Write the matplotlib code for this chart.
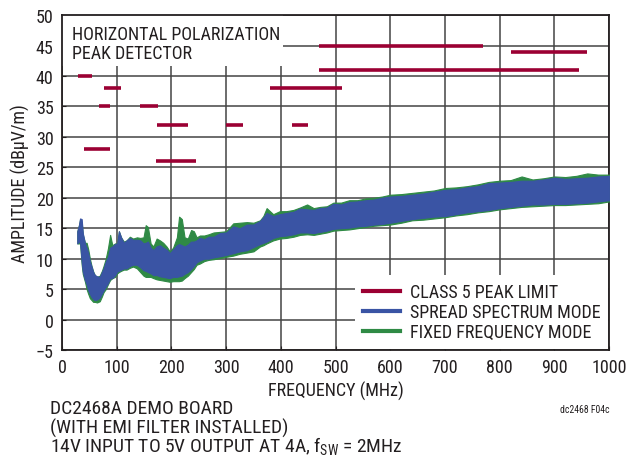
import numpy as np
import matplotlib.pyplot as plt
from matplotlib.lines import Line2D
from matplotlib.patches import Rectangle

plt.rcParams['font.family'] = ['Roboto Condensed', 'DejaVu Sans']

# class 5 peak limit segments (MHz, dBuV/m)
limit_start = [30, 76, 68, 41, 142, 174, 171, 300, 420, 380, 470, 470, 820]
limit_end = [54, 108, 87, 88, 175, 230, 245, 330, 450, 512, 770, 944, 960]
limit_level = [40, 38, 35, 28, 35, 32, 26, 32, 32, 38, 45, 41, 44]

freq = [28, 31, 33, 36, 38, 42, 45, 48, 51, 54, 57, 60, 64, 69, 73, 76, 80, 84,
        88, 92, 97, 101, 104, 108, 113, 118, 124, 130, 137, 143, 149, 153, 157,
        162, 167, 173, 179, 185, 191, 197, 203, 210, 214, 219, 224, 230, 236,
        241, 246, 252, 260, 268, 277, 289, 300, 313, 325, 338, 350, 362, 368,
        374, 386, 398, 410, 423, 435, 448, 460, 472, 484, 496, 510, 525, 540,
        555, 570, 585, 600, 620, 640, 660, 680, 700, 720, 740, 760, 780, 800,
        820, 840, 860, 880, 900, 920, 940, 960, 980, 1000]
spread_hi = [14.5, 15.5, 16.6, 16.5, 14.2, 12.5, 11.8, 10.9, 9.5, 8.7, 7.8, 7.3,
             7.1, 7.0, 7.8, 8.4, 9.5, 10.3, 11.8, 12.0, 12.4, 12.5, 14.5, 13.5,
             12.6, 13.0, 13.4, 13.1, 13.1, 13.0, 12.5, 12.6, 12.8, 11.8, 11.4,
             12.0, 12.2, 11.8, 11.5, 10.9, 11.5, 12.2, 12.4, 12.2, 12.0, 12.3,
             12.8, 12.8, 13.0, 13.4, 13.2, 13.6, 13.6, 14.2, 14.3, 15.3, 15.0,
             15.6, 15.6, 16.2, 16.8, 17.5, 17.0, 17.3, 17.5, 17.7, 18.2, 18.1,
             18.0, 18.3, 18.4, 19.0, 18.9, 19.3, 19.4, 19.6, 19.7, 20.0, 20.2,
             20.3, 20.5, 20.7, 21.0, 21.3, 21.4, 21.7, 21.9, 22.4, 22.5, 22.6,
             22.8, 22.8, 23.0, 23.3, 23.1, 23.2, 23.3, 23.5, 23.6]
spread_lo = [12.5, 12.8, 12.8, 9.5, 7.9, 6.5, 5.8, 4.8, 4.2, 3.7, 3.4, 3.2, 3.3,
             3.6, 4.3, 4.8, 5.4, 6.0, 6.8, 6.8, 7.3, 7.9, 8.0, 8.2, 8.4, 8.4, 8.8,
             9.0, 9.0, 8.6, 8.1, 8.0, 7.8, 7.6, 7.3, 7.3, 7.1, 7.0, 6.9, 6.8, 7.0,
             7.0, 7.1, 7.2, 7.5, 7.8, 8.3, 8.8, 9.4, 9.7, 10.0, 10.0, 10.2, 10.4,
             10.6, 10.9, 11.2, 11.4, 11.9, 12.4, 12.6, 12.8, 13.4, 13.7, 13.8,
             14.0, 14.3, 14.3, 14.2, 14.4, 14.6, 14.9, 15.0, 15.1, 15.3, 15.4,
             15.6, 15.7, 15.9, 16.2, 16.5, 16.7, 16.9, 17.0, 17.3, 17.6, 17.8,
             18.0, 18.3, 18.5, 18.7, 18.9, 18.9, 19.0, 19.0, 19.1, 19.2, 19.4, 19.6]
fixed_hi = [14.5, 15.5, 16.4, 16.0, 14.0, 12.6, 12.6, 11.5, 10.0, 8.8, 7.9, 7.3,
            7.0, 7.2, 8.0, 8.8, 10.0, 11.7, 13.9, 12.2, 12.5, 12.5, 14.5, 13.5,
            12.8, 13.0, 13.6, 13.3, 13.5, 13.4, 13.5, 15.5, 15.2, 12.5, 12.0,
            13.3, 13.0, 12.6, 12.0, 11.2, 11.8, 13.5, 16.9, 16.5, 13.5, 13.3,
            14.7, 14.5, 13.5, 13.8, 13.8, 14.0, 14.3, 14.4, 14.5, 15.8, 15.9,
            16.0, 15.9, 16.3, 17.0, 18.3, 17.3, 17.8, 17.8, 18.0, 18.4, 18.9,
            18.3, 18.5, 18.6, 19.2, 19.2, 19.6, 19.6, 19.9, 20.0, 20.2, 20.5,
            20.6, 20.8, 21.0, 21.2, 21.6, 21.7, 21.9, 22.2, 22.6, 22.8, 22.9,
            23.5, 23.0, 23.2, 23.5, 23.4, 23.6, 24.0, 23.8, 23.8]
fixed_lo = [12.5, 12.5, 12.5, 9.0, 7.5, 6.2, 5.0, 4.2, 3.5, 3.2, 2.9, 2.9, 2.8,
            3.0, 3.8, 4.5, 5.0, 5.8, 6.5, 6.8, 7.0, 7.6, 7.8, 8.0, 8.2, 8.2, 8.5,
            8.7, 8.4, 7.8, 7.2, 7.0, 7.0, 7.0, 6.8, 6.6, 6.5, 6.4, 6.3, 6.2, 6.3,
            6.3, 6.3, 6.4, 6.8, 7.2, 7.8, 8.3, 9.0, 9.2, 9.6, 9.8, 9.9, 10.1,
            10.3, 10.5, 10.8, 11.0, 11.2, 12.0, 12.2, 12.5, 13.0, 13.3, 13.4,
            13.6, 13.9, 14.0, 13.9, 14.1, 14.3, 14.6, 14.7, 14.8, 15.0, 15.2,
            15.4, 15.5, 15.6, 15.9, 16.3, 16.4, 16.6, 16.8, 17.1, 17.3, 17.6,
            17.8, 18.1, 18.3, 18.5, 18.6, 18.7, 18.8, 18.8, 18.9, 19.0, 19.1, 19.4]

red = '#9b0033'
blue = '#3a54a4'
green = '#2f8a45'
ink = '#231f20'

fig = plt.figure(figsize=(6.28, 4.6), dpi=100)
ax = fig.add_axes([0.0987, 0.237, 0.8713, 0.728])

ax.fill_between(freq, fixed_lo, fixed_hi, color=green, lw=0.8, zorder=3)
ax.fill_between(freq, spread_lo, spread_hi, color=blue, lw=0.8, zorder=4)
for s, e, lv in zip(limit_start, limit_end, limit_level):
    ax.plot([s, e], [lv, lv], color=red, lw=2.6, solid_capstyle='butt', zorder=5)

ax.set_xlim(0, 1000)
ax.set_ylim(-5, 50)
ax.set_xticks(range(0, 1001, 100))
ax.set_yticks(range(-5, 51, 5))
ax.grid(True, color='#444444', lw=1.1)
ax.set_axisbelow(True)
ax.tick_params(direction='in', length=3, labelsize=13, colors=ink, pad=6)
for sp in ax.spines.values():
    sp.set_color(ink)
    sp.set_linewidth(1.3)

ax.set_xlabel('FREQUENCY (MHz)', fontsize=13, color=ink, labelpad=3)
ax.set_ylabel('AMPLITUDE (dBμV/m)', fontsize=13, color=ink, labelpad=4)

# white box behind the title text
ax.add_patch(Rectangle((0, 41.7), 404, 8.3, facecolor='white', edgecolor='none', zorder=1))
ax.text(0.018, 0.97, 'HORIZONTAL POLARIZATION\nPEAK DETECTOR', transform=ax.transAxes,
        fontsize=13, color=ink, va='top', ha='left', linespacing=1.05, zorder=6)

handles = [Line2D([], [], color=red, lw=3),
           Line2D([], [], color=blue, lw=3),
           Line2D([], [], color=green, lw=3)]
leg = ax.legend(handles, ['CLASS 5 PEAK LIMIT', 'SPREAD SPECTRUM MODE', 'FIXED FREQUENCY MODE'],
                loc='lower right', fontsize=13, frameon=True, fancybox=False,
                facecolor='white', edgecolor='none', framealpha=1,
                handlelength=2.05, handletextpad=0.5, labelspacing=0.1,
                borderpad=0.45, borderaxespad=0.05)
leg.set_zorder(7)
for t in leg.get_texts():
    t.set_color(ink)

fig.text(0.08, 0.100, 'DC2468A DEMO BOARD', fontsize=14, color=ink, va='baseline')
fig.text(0.08, 0.057, '(WITH EMI FILTER INSTALLED)', fontsize=14, color=ink, va='baseline')
fig.text(0.08, 0.015, '14V INPUT TO 5V OUTPUT AT 4A, f$_\\mathregular{SW}$ = 2MHz',
         fontsize=14, color=ink, va='baseline')
fig.text(0.892, 0.103, 'dc2468 F04c', fontsize=7, color=ink, va='baseline')

fig.savefig('out.png', dpi=100)
